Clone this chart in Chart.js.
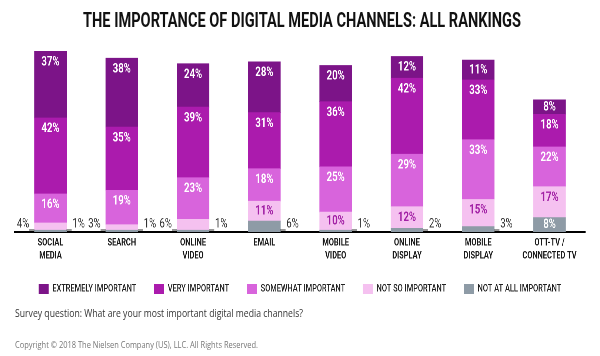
<!DOCTYPE html>
<html><head><meta charset="utf-8">
<script src="https://cdn.jsdelivr.net/npm/chart.js@4"></script>
<style>
html,body{margin:0;padding:0;background:#fff;width:600px;height:356px;overflow:hidden;}
#wrap{position:absolute;left:0;top:0;width:810px;height:356px;transform:scaleX(0.740741);transform-origin:0 0;}
.txt{position:absolute;white-space:nowrap;transform-origin:0 0;}
#title{top:10px;left:83px;font:700 20px/20px Roboto,sans-serif;color:#111;}
#q{top:307px;left:15px;font:400 10.5px/12px 'Open Sans',sans-serif;color:#333;}
#copy{top:339px;left:15px;font:400 9.5px/11px 'Open Sans',sans-serif;color:#777;}
</style></head><body>
<div id="wrap"><canvas id="c"></canvas></div>
<div class="txt" id="title">THE IMPORTANCE OF DIGITAL MEDIA CHANNELS: ALL RANKINGS</div>
<div class="txt" id="q">Survey question: What are your most important digital media channels?</div>
<div class="txt" id="copy">Copyright © 2018 The Nielsen Company (US), LLC. All Rights Reserved.</div>
<script>
const categories = [["SOCIAL","MEDIA"],["SEARCH"],["ONLINE","VIDEO"],["EMAIL"],["MOBILE","VIDEO"],["ONLINE","DISPLAY"],["MOBILE","DISPLAY"],["OTT-TV /","CONNECTED TV"]];
const extremelyImportant = [37,38,24,28,20,12,11,8];
const veryImportant      = [42,35,39,31,36,42,33,18];
const somewhatImportant  = [16,19,23,18,25,29,33,22];
const notSoImportant     = [4,3,6,11,10,12,15,17];
const notAtAllImportant  = [1,1,1,6,1,2,3,8];
const seriesNames = ["EXTREMELY IMPORTANT","VERY IMPORTANT","SOMEWHAT IMPORTANT","NOT SO IMPORTANT","NOT AT ALL IMPORTANT"];

const seriesValues = [extremelyImportant, veryImportant, somewhatImportant, notSoImportant, notAtAllImportant];
const colors = ['#7c1488','#ab1bad','#d864dc','#f5c1f0','#8e9ba6'];

function fit(id, w){
  const el = document.getElementById(id);
  el.style.transform = 'none';
  const r = el.getBoundingClientRect().width;
  if (r > 0) el.style.transform = 'scaleX(' + (w / r) + ')';
}
function fitAll(){ fit('title', 438); fit('q', 288); fit('copy', 243); }
fitAll();
if (document.fonts && document.fonts.ready) document.fonts.ready.then(fitAll);

const datasets = [4,3,2,1,0].map(i => ({
  label: seriesNames[i], data: seriesValues[i], backgroundColor: colors[i],
  borderWidth: 0, barThickness: 43.2, key: i
}));

const segLabels = {
  id: 'segLabels',
  afterDatasetsDraw(chart) {
    const ctx = chart.ctx;
    const zeroY = chart.scales.y.getPixelForValue(0);
    chart.data.datasets.forEach((ds, di) => {
      const meta = chart.getDatasetMeta(di);
      meta.data.forEach((el, j) => {
        const v = ds.data[j];
        const p = el.getProps(['x','y','base','width'], true);
        const top = Math.min(p.y, p.base), h = Math.abs(p.base - p.y);
        const k = ds.key;
        ctx.save();
        if ((k === 3 || k === 4) && v < 8) {
          ctx.font = '400 13px Roboto';
          ctx.fillStyle = '#333';
          ctx.strokeStyle = '#333';
          ctx.lineWidth = 1;
          ctx.textBaseline = 'middle';
          const cy = zeroY - 8, ly = cy + 6;
          if (k === 3) {
            const edge = p.x - p.width / 2;
            ctx.beginPath(); ctx.moveTo(edge - 7, ly); ctx.lineTo(edge, ly); ctx.stroke();
            ctx.textAlign = 'right';
            ctx.fillText(v + '%', edge - 7, cy);
          } else {
            const edge = p.x + p.width / 2;
            ctx.beginPath(); ctx.moveTo(edge, ly); ctx.lineTo(edge + 7, ly); ctx.stroke();
            ctx.textAlign = 'left';
            ctx.fillText(v + '%', edge + 8, cy);
          }
        } else {
          ctx.font = '700 13px Roboto';
          ctx.fillStyle = k === 3 ? '#a322a6' : '#ffffff';
          ctx.textAlign = 'center';
          ctx.textBaseline = 'middle';
          ctx.fillText(v + '%', p.x, top + Math.min(11, h / 2));
        }
        ctx.restore();
      });
    });
  }
};

new Chart(document.getElementById('c'), {
  type: 'bar',
  data: { labels: categories, datasets },
  plugins: [segLabels],
  options: {
    responsive: true, maintainAspectRatio: false, devicePixelRatio: 2, animation: false,
    layout: { padding: { top: 51, left: 20, right: 20, bottom: 52 } },
    plugins: {
      legend: {
        position: 'bottom', reverse: true,
        labels: { boxWidth: 13.5, boxHeight: 10, padding: 24, color: '#222',
                  font: { family: 'Roboto', size: 10, weight: '500' } }
      },
      tooltip: { enabled: false },
      title: { display: false }
    },
    scales: {
      x: {
        stacked: true,
        grid: { display: false, drawTicks: false },
        border: { display: true, color: '#000', width: 2 },
        ticks: { padding: 4.5, color: '#1a1a1a', autoSkip: false, maxRotation: 0,
                 font: { family: 'Roboto', size: 10, weight: 'bold', lineHeight: 1.3 } },
        afterFit(s) { s.height = 28; }
      },
      y: { stacked: true, display: false, min: 0, max: 100 }
    }
  }
});
</script>
</body></html>
